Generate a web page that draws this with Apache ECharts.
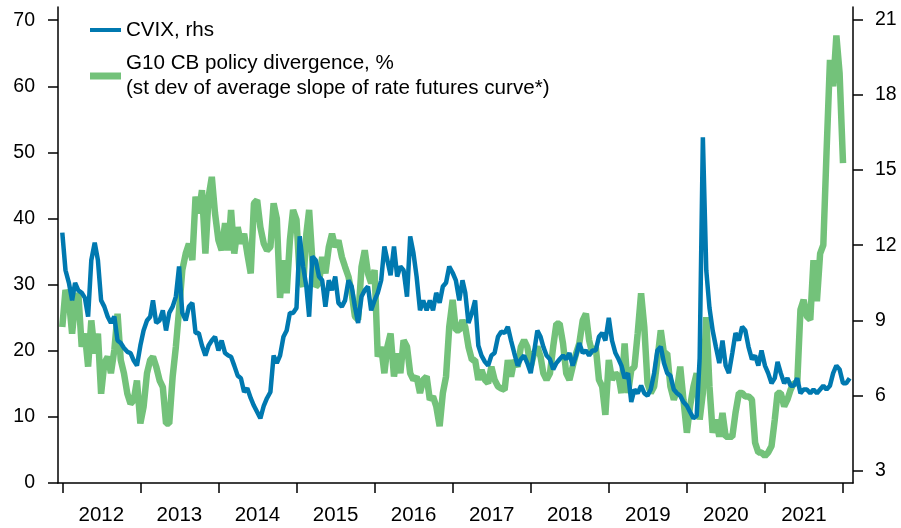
<!DOCTYPE html>
<html>
<head>
<meta charset="utf-8">
<script src="https://cdn.jsdelivr.net/npm/echarts@6/dist/echarts.min.js"></script>
<style>
    html, body { margin: 0; padding: 0; background: #fff; }
    #chart { width: 901px; height: 528px; }
</style>
</head>
<body>
<div id="chart"></div>
<script>
    // semi-monthly samples starting 1 Jan 2012 (1st and 16th of each month)
    const cvix = [
        12.5, 11.0, 10.5, 9.8, 10.5, 10.2, 10.1, 9.9, 9.15, 11.4, 12.1, 11.4, 9.8, 9.55, 9.15, 8.9, 9.15, 8.2, 8.1, 7.9,
        7.75, 7.7, 7.4, 7.2, 8.0, 8.6, 9.0, 9.15, 9.8, 8.9, 9.0, 9.4, 8.6, 9.3, 9.55, 9.95, 11.15, 9.3, 9.0, 9.55,
        9.7, 8.5, 8.5, 8.0, 7.6, 8.0, 8.2, 8.35, 7.8, 8.2, 7.7, 7.6, 7.55, 7.2, 6.8, 6.7, 6.15, 6.3, 5.9, 5.6,
        5.35, 5.1, 5.6, 5.9, 6.15, 7.6, 7.3, 7.6, 8.35, 8.6, 9.3, 9.3, 9.5, 12.35, 11.15, 10.35, 9.15, 11.55, 11.4, 10.75,
        10.6, 9.55, 10.6, 10.2, 10.75, 9.7, 9.55, 9.8, 10.6, 10.35, 9.55, 8.9, 9.95, 10.2, 10.35, 9.4, 9.8, 10.1, 10.6, 11.95,
        11.4, 10.8, 11.95, 10.75, 11.15, 11.0, 9.95, 12.35, 11.7, 10.75, 9.4, 9.8, 9.4, 9.8, 9.4, 10.1, 9.7, 10.35, 10.5, 11.15,
        10.9, 10.6, 9.8, 10.6, 10.1, 8.9, 9.3, 9.8, 8.0, 7.6, 7.35, 7.2, 7.6, 7.7, 8.35, 8.55, 8.5, 8.75, 8.2, 7.7,
        7.2, 7.45, 7.6, 7.3, 6.9, 7.7, 8.6, 8.35, 7.95, 7.6, 7.45, 7.05, 7.3, 7.45, 7.6, 7.45, 7.7, 7.2, 7.6, 8.1,
        7.7, 7.8, 7.6, 7.8, 7.8, 8.35, 8.5, 8.2, 9.1, 8.2, 7.7, 7.45, 7.2, 6.7, 6.9, 5.75, 6.25, 6.1, 6.4, 6.1,
        6.0, 6.25, 6.9, 7.8, 7.95, 7.3, 6.9, 6.8, 6.25, 6.1, 6.0, 5.75, 5.6, 5.35, 5.1, 5.2, 7.5, 16.3, 11.0, 9.5,
        8.6, 7.95, 7.3, 8.2, 7.2, 6.9, 7.7, 8.5, 8.2, 8.75, 8.6, 7.95, 7.45, 7.6, 7.2, 7.8, 7.2, 6.9, 6.5, 6.7,
        7.35, 6.9, 6.5, 6.7, 6.4, 6.4, 6.7, 6.1, 6.25, 6.25, 6.1, 6.25, 6.1, 6.25, 6.4, 6.25, 6.4, 6.9, 7.2, 7.05,
        6.5, 6.5, 6.7
    ];
    const policyDivergence = [
        23.6, 29.2, 27.7, 22.6, 27.2, 28.7, 20.6, 22.6, 17.6, 24.6, 19.6, 22.6, 13.5, 18.1, 19.1, 16.6, 20.1, 25.6, 18.6, 16.6,
        13.5, 12.0, 12.5, 15.5, 9.0, 11.5, 16.6, 18.6, 19.1, 17.6, 15.5, 14.5, 9.0, 9.0, 16.1, 20.6, 26.2, 32.2, 34.7, 36.2,
        33.7, 43.3, 40.8, 44.3, 34.7, 43.3, 46.3, 40.8, 36.7, 35.2, 39.3, 35.2, 41.3, 34.7, 38.7, 36.2, 37.7, 34.7, 31.7, 42.3,
        42.8, 38.7, 36.2, 35.2, 35.7, 42.3, 40.0, 28.0, 33.7, 28.7, 36.7, 41.3, 39.8, 31.2, 29.7, 37.7, 41.3, 33.7, 29.7, 30.2,
        34.2, 31.7, 35.7, 37.7, 35.7, 36.7, 34.2, 32.7, 31.2, 28.7, 25.2, 24.7, 32.7, 35.2, 31.7, 30.2, 32.2, 19.1, 20.6, 16.6,
        20.6, 22.6, 16.1, 19.6, 16.6, 21.6, 20.6, 16.6, 15.6, 16.1, 13.6, 15.6, 16.1, 12.6, 13.1, 11.6, 8.6, 13.6, 16.1, 23.6,
        27.7, 23.1, 23.1, 24.6, 23.6, 20.6, 18.6, 18.6, 15.6, 17.1, 15.6, 15.1, 17.6, 15.6, 14.6, 14.3, 14.1, 18.6, 16.1, 18.6,
        17.6, 20.6, 21.6, 20.6, 17.6, 19.6, 20.6, 19.1, 16.6, 15.6, 16.6, 20.6, 24.1, 24.1, 21.1, 16.6, 15.6, 17.6, 19.6, 21.1,
        24.6, 25.6, 21.6, 19.6, 20.6, 15.6, 14.6, 10.3, 18.6, 15.6, 16.6, 16.1, 13.6, 21.1, 13.6, 17.1, 17.6, 22.6, 28.7, 23.6,
        15.1, 13.6, 14.6, 18.6, 23.1, 19.6, 19.6, 14.6, 12.6, 14.1, 17.6, 12.6, 7.6, 11.6, 14.6, 16.6, 9.6, 13.6, 25.1, 14.6,
        7.6, 9.6, 7.0, 10.6, 7.0, 7.0, 7.0, 10.6, 13.6, 13.6, 13.1, 13.1, 12.6, 6.1, 4.6, 4.6, 4.1, 4.6, 5.6, 9.6,
        13.6, 13.6, 11.6, 12.6, 14.1, 15.1, 15.1, 26.2, 27.7, 25.2, 24.7, 33.7, 27.5, 34.7, 36.0, 50.0, 64.0, 60.0, 67.7, 62.0,
        48.4
    ];
    const yearTicks = [2012, 2013, 2014, 2015, 2016, 2017, 2018, 2019, 2020, 2021, 2022];
    const yearLabels = ['2012', '2013', '2014', '2015', '2016', '2017', '2018', '2019', '2020', '2021'];
    const leftTicks = [0, 10, 20, 30, 40, 50, 60, 70];
    const rightTicks = [3, 6, 9, 12, 15, 18, 21];

    // sample k -> fractional year (1st / 16th of each month)
    function sampleYear(k) {
        const year = 2012 + Math.floor(k / 24);
        const month = Math.floor((k % 24) / 2);
        const t = new Date(year, month, k % 2 ? 16 : 1).getTime();
        const t0 = new Date(year, 0, 1).getTime();
        const t1 = new Date(year + 1, 0, 1).getTime();
        return year + (t - t0) / (t1 - t0);
    }

    const font = "'Liberation Sans', Arial, sans-serif";
    const black = {color: '#000', width: 1.5};
    const labelStyle = {color: '#000', fontSize: 19.5, fontFamily: font};

    const chart = echarts.init(document.getElementById('chart'));
    chart.setOption({
        animation: false,
        grid: {left: 58, right: 48, top: 7, bottom: 45},
        legend: [
            {
                data: [{name: 'CVIX, rhs', icon: 'rect'}],
                left: 85, top: 13,
                itemWidth: 31, itemHeight: 4,
                textStyle: {color: '#000', fontSize: 20.6, fontFamily: font, lineHeight: 24}
            },
            {
                data: [{name: 'G10 CB policy divergence, %', icon: 'rect'}],
                left: 85, top: 46,
                itemWidth: 31, itemHeight: 7,
                formatter: name => name + '\n(st dev of average slope of rate futures curve*)',
                textStyle: {color: '#000', fontSize: 20.6, fontFamily: font, lineHeight: 25}
            }
        ],
        xAxis: {
            type: 'value',
            min: 2011.945, max: 2022.128,
            axisLine: {lineStyle: black},
            axisTick: {length: 10, lineStyle: black, customValues: yearTicks},
            axisLabel: Object.assign({
                margin: 22,
                customValues: yearTicks.slice(0, -1).map(y => y + 0.5),
                formatter: v => yearLabels[Math.floor(v) - 2012]
            }, labelStyle, {fontSize: 20.5}),
            splitLine: {show: false}
        },
        yAxis: [
            {
                type: 'value',
                min: 0, max: 72,
                axisLine: {show: true, lineStyle: black},
                axisTick: {show: true, length: 10, lineStyle: black, customValues: leftTicks},
                axisLabel: Object.assign({margin: 23, customValues: leftTicks}, labelStyle),
                splitLine: {show: false}
            },
            {
                type: 'value',
                position: 'right',
                min: 2.522, max: 21.49,
                axisLine: {show: true, lineStyle: black},
                axisTick: {show: true, length: 10, lineStyle: black, customValues: rightTicks},
                axisLabel: Object.assign({margin: 22, customValues: rightTicks}, labelStyle),
                splitLine: {show: false}
            }
        ],
        series: [
            {
                name: 'G10 CB policy divergence, %',
                type: 'line',
                yAxisIndex: 0,
                showSymbol: false,
                color: '#73C27A',
                lineStyle: {width: 6.5, color: '#73C27A'},
                data: policyDivergence.map((v, k) => [sampleYear(k), v])
            },
            {
                name: 'CVIX, rhs',
                type: 'line',
                yAxisIndex: 1,
                showSymbol: false,
                color: '#0079B0',
                lineStyle: {width: 4.5, color: '#0079B0'},
                data: cvix.map((v, k) => [sampleYear(k), v])
            }
        ]
    });
</script>
</body>
</html>
